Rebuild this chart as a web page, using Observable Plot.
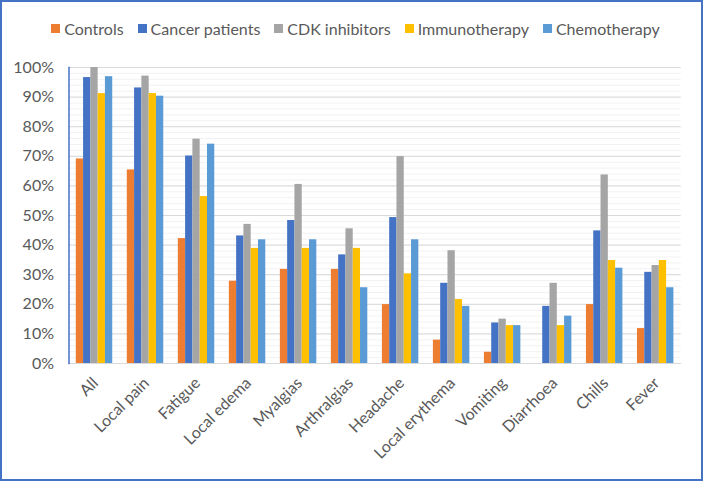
<!DOCTYPE html>
<html>
<head>
<meta charset="utf-8">
<script src="https://cdn.jsdelivr.net/npm/d3@7"></script>
<script src="https://cdn.jsdelivr.net/npm/@observablehq/plot@0.6"></script>
<style>
  html, body { margin: 0; padding: 0; background: #fff; }
  #wrap {
    width: 703px; height: 481px; box-sizing: border-box;
    border: 2px solid #4472c4; background: #fff; overflow: hidden;
    font-family: Lato, "Open Sans", sans-serif;
  }
  #legend {
    height: 52px; display: flex; justify-content: center; align-items: center;
    gap: 14px; font-size: 16px; color: #595959; padding-left: 8px; box-sizing: border-box;
  }
  #legend .item { display: flex; align-items: center; gap: 4px; }
  #legend .sw { width: 9px; height: 9px; display: inline-block; }
  svg { display: block; }
</style>
</head>
<body>
<div id="wrap">
  <div id="legend"></div>
  <div id="chart"></div>
</div>
<script>
const categories = ["All", "Local pain", "Fatigue", "Local edema", "Myalgias", "Arthralgias",
  "Headache", "Local erythema", "Vomiting", "Diarrhoea", "Chills", "Fever"];
const series = ["Controls", "Cancer patients", "CDK inhibitors", "Immunotherapy", "Chemotherapy"];
const colors = ["#ed7d31", "#4472c4", "#a5a5a5", "#ffc000", "#5b9bd5"];

const controls = [69.1, 65.4, 42.2, 27.8, 31.8, 31.8, 19.9, 7.9, 3.8, 0, 19.9, 11.8];
const cancerPatients = [96.6, 93.1, 70.1, 43.1, 48.3, 36.7, 49.3, 27.1, 13.7, 19.3, 44.8, 30.8];
const cdkInhibitors = [100, 97.1, 75.8, 47.0, 60.5, 45.5, 69.9, 38.1, 15.0, 27.1, 63.7, 33.1];
const immunotherapy = [91.2, 91.2, 56.4, 38.9, 38.9, 38.9, 30.3, 21.6, 12.8, 12.8, 34.8, 34.8];
const chemotherapy = [96.9, 90.3, 74.1, 41.8, 41.8, 25.6, 41.8, 19.3, 12.8, 16.0, 32.2, 25.6];

const yTicks = [0, 10, 20, 30, 40, 50, 60, 70, 80, 90, 100];

const seriesValues = [controls, cancerPatients, cdkInhibitors, immunotherapy, chemotherapy];
const data = [];
categories.forEach((c, i) => {
  series.forEach((s, j) => {
    data.push({category: c, series: s, key: c + "|" + s, value: seriesValues[j][i] / 100});
  });
});
// band domain: a spacer slot on each side of every group of five bars
const xDomain = categories.flatMap(c => [c + "|<", ...series.map(s => c + "|" + s), c + "|>"]);
const labelKeys = categories.map(c => c + "|" + series[2]);

// legend
const legend = document.getElementById("legend");
series.forEach((s, i) => {
  const it = document.createElement("span");
  it.className = "item";
  it.innerHTML = `<span class="sw" style="background:${colors[i]}"></span><span>${s}</span>`;
  legend.appendChild(it);
});

const chart = Plot.plot({
  width: 699,
  height: 423,
  marginTop: 13,
  marginBottom: 114,
  marginLeft: 66.5,
  marginRight: 20.3,
  style: {fontFamily: "Lato, 'Open Sans', sans-serif", fontSize: "16px", color: "#595959", background: "#fff"},
  x: {type: "band", domain: xDomain, padding: 0, round: false, axis: null, label: null},
  y: {domain: [0, 1], axis: null, label: null},
  color: {domain: series, range: colors},
  marks: [
    Plot.gridY({ticks: 50, stroke: "#f2f2f2", strokeOpacity: 1}),
    Plot.gridY({ticks: yTicks.map(d => d / 100), stroke: "#d9d9d9", strokeOpacity: 1}),
    Plot.barY(data, {x: "key", y: "value", fill: "series"}),
    Plot.ruleY([0], {stroke: "#d9d9d9", strokeWidth: 1}),
    Plot.frame({anchor: "left", stroke: "#4472c4", strokeWidth: 1.5}),
    Plot.axisY({ticks: yTicks.map(d => d / 100), tickFormat: d => Math.round(d * 100) + "%",
      tickSize: 0, tickPadding: 15, fill: "#595959", fontSize: 16, label: null}),
    Plot.axisX({ticks: labelKeys, tickFormat: d => d.split("|")[0], tickRotate: -45,
      tickSize: 0, tickPadding: 12, dx: 1, dy: 5, fill: "#595959", fontSize: 16, label: null})
  ]
});
document.getElementById("chart").appendChild(chart);
</script>
</body>
</html>
